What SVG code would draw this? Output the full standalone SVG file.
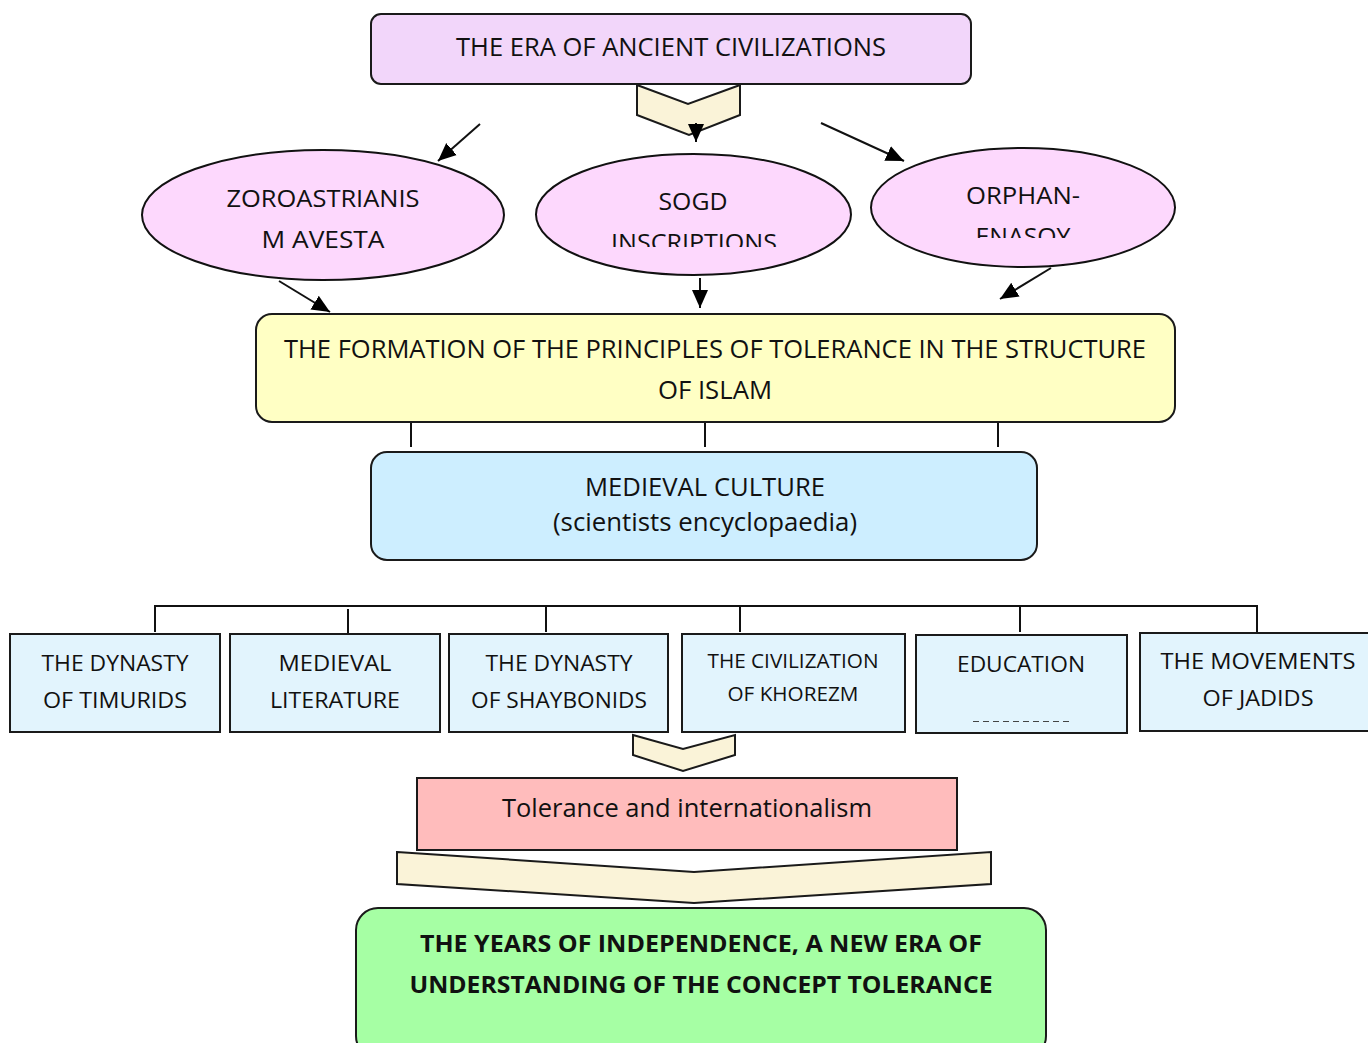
<svg xmlns="http://www.w3.org/2000/svg" width="1368" height="1043" viewBox="0 0 1368 1043">
<defs>
<style>
.t{font-family:"Open Sans","Liberation Sans",sans-serif;fill:#111;text-anchor:middle}
.b{font-weight:bold}
.stk{stroke:#1a1a1a;stroke-width:2}
.ln{stroke:#111;stroke-width:2;fill:none}
.chev{fill:#faf3d8;stroke:#1a1a1a;stroke-width:2;stroke-linejoin:miter}
.row{fill:#e2f4fd;stroke:#1a1a1a;stroke-width:2}
.ell{fill:#fdd8fd;stroke:#111;stroke-width:2}
</style>
<marker id="ah" markerUnits="userSpaceOnUse" markerWidth="20" markerHeight="20" viewBox="0 0 20 20" refX="18" refY="10" orient="auto">
<path d="M0,2 L18,10 L0,18 z" fill="#000"/>
</marker>
<clipPath id="clipSogd"><rect x="530" y="140" width="330" height="107"/></clipPath>
<clipPath id="clipOrph"><rect x="860" y="140" width="330" height="98"/></clipPath>
</defs>

<g id="connectors">
<polygon class="chev" points="637,85 688,104 740,85 740,115 689,135 637,115"/>
<line class="ln" x1="696" y1="123" x2="696" y2="142" marker-end="url(#ah)"/>
<line class="ln" x1="480" y1="124" x2="438" y2="161" marker-end="url(#ah)"/>
<line class="ln" x1="821" y1="123" x2="904" y2="161" marker-end="url(#ah)"/>
<line class="ln" x1="279" y1="281" x2="330" y2="312" marker-end="url(#ah)"/>
<line class="ln" x1="700" y1="278" x2="700" y2="308" marker-end="url(#ah)"/>
<line class="ln" x1="1051" y1="268" x2="1000" y2="299" marker-end="url(#ah)"/>
<line class="ln" x1="411" y1="422" x2="411" y2="447"/>
<line class="ln" x1="705" y1="422" x2="705" y2="447"/>
<line class="ln" x1="998" y1="422" x2="998" y2="447"/>
<polyline class="ln" points="155,632 155,606 1257,606 1257,632"/>
<line class="ln" x1="348" y1="609" x2="348" y2="633"/>
<line class="ln" x1="546" y1="606" x2="546" y2="632"/>
<line class="ln" x1="740" y1="606" x2="740" y2="632"/>
<line class="ln" x1="1020" y1="606" x2="1020" y2="632"/>
<polygon class="chev" points="633,735 683,749 735,735 735,755 683,771 633,755"/>
<polygon class="chev" points="397,852 694,872 991,852 991,884 694,903 397,884"/>
</g>

<g id="era">
<rect x="371" y="14" width="600" height="70" rx="10" fill="#f2d6fa" class="stk"/>
<text class="t" x="671" y="56" font-size="25" textLength="430" lengthAdjust="spacingAndGlyphs">THE ERA OF ANCIENT CIVILIZATIONS</text>
</g>

<g id="zoroastrianism">
<ellipse class="ell" cx="323" cy="215" rx="181" ry="65"/>
<text class="t" x="323" y="207" font-size="24" textLength="193" lengthAdjust="spacingAndGlyphs">ZOROASTRIANIS</text>
<text class="t" x="323" y="248" font-size="24" textLength="123" lengthAdjust="spacingAndGlyphs">M AVESTA</text>
</g>

<g id="sogd">
<ellipse class="ell" cx="693.5" cy="214.5" rx="157.5" ry="60.5"/>
<text class="t" x="693" y="210" font-size="24" textLength="69" lengthAdjust="spacingAndGlyphs">SOGD</text>
<text class="t" x="694" y="251" font-size="24" textLength="166" lengthAdjust="spacingAndGlyphs" clip-path="url(#clipSogd)">INSCRIPTIONS</text>
</g>

<g id="orphan">
<ellipse class="ell" cx="1023" cy="207.5" rx="152" ry="59.5"/>
<text class="t" x="1023" y="204" font-size="24" textLength="114" lengthAdjust="spacingAndGlyphs">ORPHAN-</text>
<text class="t" x="1023" y="245" font-size="24" textLength="95" lengthAdjust="spacingAndGlyphs" clip-path="url(#clipOrph)">ENASOY</text>
</g>

<g id="formation">
<rect x="256" y="314" width="919" height="108" rx="16" fill="#ffffc4" class="stk"/>
<text class="t" x="715" y="358" font-size="26" textLength="862" lengthAdjust="spacingAndGlyphs">THE FORMATION OF THE PRINCIPLES OF TOLERANCE IN THE STRUCTURE</text>
<text class="t" x="715" y="399" font-size="26" textLength="114" lengthAdjust="spacingAndGlyphs">OF ISLAM</text>
</g>

<g id="medieval-culture">
<rect x="371" y="452" width="666" height="108" rx="16" fill="#cdeeff" class="stk"/>
<text class="t" x="705" y="496" font-size="25" textLength="240" lengthAdjust="spacingAndGlyphs">MEDIEVAL CULTURE</text>
<text class="t" x="705" y="531" font-size="25" textLength="304" lengthAdjust="spacingAndGlyphs">(scientists encyclopaedia)</text>
</g>

<g id="timurids">
<rect class="row" x="10" y="634" width="210" height="98"/>
<text class="t" x="115" y="671" font-size="22" textLength="147" lengthAdjust="spacingAndGlyphs">THE DYNASTY</text>
<text class="t" x="115" y="708" font-size="22" textLength="144" lengthAdjust="spacingAndGlyphs">OF TIMURIDS</text>
</g>

<g id="literature">
<rect class="row" x="230" y="634" width="210" height="98"/>
<text class="t" x="335" y="671" font-size="22" textLength="113" lengthAdjust="spacingAndGlyphs">MEDIEVAL</text>
<text class="t" x="335" y="708" font-size="22" textLength="130" lengthAdjust="spacingAndGlyphs">LITERATURE</text>
</g>

<g id="shaybonids">
<rect class="row" x="449" y="634" width="219" height="98"/>
<text class="t" x="559" y="671" font-size="22" textLength="147" lengthAdjust="spacingAndGlyphs">THE DYNASTY</text>
<text class="t" x="559" y="708" font-size="22" textLength="176" lengthAdjust="spacingAndGlyphs">OF SHAYBONIDS</text>
</g>

<g id="khorezm">
<rect class="row" x="682" y="634" width="223" height="98"/>
<text class="t" x="793" y="668" font-size="20" textLength="171" lengthAdjust="spacingAndGlyphs">THE CIVILIZATION</text>
<text class="t" x="793" y="701" font-size="20" textLength="131" lengthAdjust="spacingAndGlyphs">OF KHOREZM</text>
</g>

<g id="education">
<rect class="row" x="916" y="635" width="211" height="98"/>
<text class="t" x="1021" y="672" font-size="22" textLength="128" lengthAdjust="spacingAndGlyphs">EDUCATION</text>
<line x1="973" y1="721.5" x2="1070" y2="721.5" stroke="#444" stroke-width="1" stroke-dasharray="6,4"/>
</g>

<g id="jadids">
<rect class="row" x="1140" y="633" width="232" height="98"/>
<text class="t" x="1258" y="669" font-size="22" textLength="195" lengthAdjust="spacingAndGlyphs">THE MOVEMENTS</text>
<text class="t" x="1258" y="706" font-size="22" textLength="111" lengthAdjust="spacingAndGlyphs">OF JADIDS</text>
</g>

<g id="tolerance">
<rect x="417" y="778" width="540" height="72" fill="#ffbcbc" class="stk"/>
<text class="t" x="687" y="817" font-size="25" textLength="370" lengthAdjust="spacingAndGlyphs">Tolerance and internationalism</text>
</g>

<g id="independence">
<rect x="356" y="908" width="690" height="150" rx="22" fill="#a6ffa4" class="stk"/>
<text class="t b" x="701" y="952" font-size="24" textLength="562" lengthAdjust="spacingAndGlyphs">THE YEARS OF INDEPENDENCE, A NEW ERA OF</text>
<text class="t b" x="701" y="993" font-size="24" textLength="583" lengthAdjust="spacingAndGlyphs">UNDERSTANDING OF THE CONCEPT TOLERANCE</text>
</g>
</svg>
